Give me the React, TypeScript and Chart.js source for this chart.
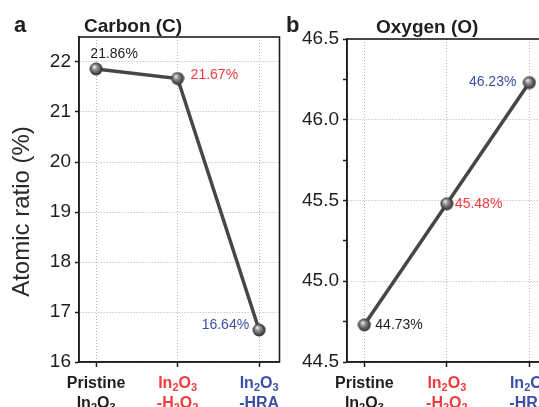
import React, { useEffect, useRef } from "react";
import { Chart, registerables } from "chart.js";

Chart.register(...registerables);

// ---- data ----
const categories = ["Pristine\nIn_2O_3", "In_2O_3\n-H_2O_2", "In_2O_3\n-HRA"];
const categoryColors = ["#1e1e1e", "#f03c3c", "#3b4ea8"];
const carbonValues = [21.86, 21.67, 16.64];
const oxygenValues = [44.73, 45.48, 46.23];
const carbonTicks = [16, 17, 18, 19, 20, 21, 22];
const oxygenTicks = [44.5, 45.0, 45.5, 46.0, 46.5];
const yAxisTitle = "Atomic ratio (%)";

// ---- styles ----
const FONT = "'Liberation Sans', Arial, Helvetica, sans-serif";

function makeSphere(): HTMLCanvasElement {
  const c = document.createElement("canvas");
  c.width = 14;
  c.height = 14;
  const g = c.getContext("2d")!;
  const grad = g.createRadialGradient(5, 4.6, 0.3, 7, 7, 7);
  grad.addColorStop(0, "#f2f2f2");
  grad.addColorStop(0.3, "#9a9a9a");
  grad.addColorStop(0.75, "#4a4a4a");
  grad.addColorStop(1, "#262626");
  g.fillStyle = grad;
  g.beginPath();
  g.arc(7, 7, 6.5, 0, Math.PI * 2);
  g.fill();
  return c;
}

function drawRich(ctx: CanvasRenderingContext2D, text: string, cx: number, cy: number, size: number, color: string) {
  const parts: { t: string; sub: boolean }[] = [];
  for (let i = 0; i < text.length; i++) {
    if (text[i] === "_" && i + 1 < text.length) {
      parts.push({ t: text[i + 1], sub: true });
      i++;
    } else {
      const last = parts[parts.length - 1];
      if (last && !last.sub) last.t += text[i];
      else parts.push({ t: text[i], sub: false });
    }
  }
  const subSize = Math.round(size * 0.68);
  let total = 0;
  const widths = parts.map((p) => {
    ctx.font = `bold ${p.sub ? subSize : size}px ${FONT}`;
    const w = ctx.measureText(p.t).width;
    total += w;
    return w;
  });
  let x = cx - total / 2;
  ctx.fillStyle = color;
  ctx.textBaseline = "alphabetic";
  ctx.textAlign = "left";
  const base = cy + size * 0.36;
  parts.forEach((p, i) => {
    ctx.font = `bold ${p.sub ? subSize : size}px ${FONT}`;
    ctx.fillText(p.t, x, p.sub ? base + size * 0.22 : base);
    x += widths[i];
  });
}

type LabelStyle = { dx: number; dy: number; align: CanvasTextAlign };

interface PanelCfg {
  values: number[];
  yTicks: number[];
  yMin: number;
  yMax: number;
  step: number;
  decimals: number;
  title: string;
  titleX: number;
  titleY: number;
  letter: string;
  letterX: number;
  letterY: number;
  yTitleX: number | null;
  yScaleWidth: number;
  padTop: number;
  padRight: number;
  labels: LabelStyle[];
}

const CANVAS_H = 430;
const AREA_BOTTOM = 362;

function makeChart(canvas: HTMLCanvasElement, cfg: PanelCfg) {
  const sphere = makeSphere();
  const isMajor = (v: number) => cfg.yTicks.some((t) => Math.abs(t - v) < 1e-6);
  const plugin = {
    id: "decor",
    afterDraw(chart: any) {
      const ctx: CanvasRenderingContext2D = chart.ctx;
      const a = chart.chartArea;
      const xs = chart.scales.x;
      const ys = chart.scales.y;
      ctx.save();
      // frame
      ctx.strokeStyle = "#1e1e1e";
      ctx.lineWidth = 1.6;
      ctx.strokeRect(a.left, a.top, a.right - a.left, a.bottom - a.top);
      // title & letter
      ctx.fillStyle = "#1e1e1e";
      ctx.textBaseline = "alphabetic";
      ctx.textAlign = "left";
      ctx.font = `bold 19px ${FONT}`;
      ctx.fillText(cfg.title, cfg.titleX, cfg.titleY);
      ctx.font = `bold 22px ${FONT}`;
      ctx.fillText(cfg.letter, cfg.letterX, cfg.letterY);
      // y title
      if (cfg.yTitleX !== null) {
        ctx.save();
        ctx.translate(cfg.yTitleX, (a.top + a.bottom) / 2 + 12);
        ctx.rotate(-Math.PI / 2);
        ctx.font = `24px ${FONT}`;
        ctx.fillStyle = "#2a2a2a";
        ctx.textAlign = "center";
        ctx.textBaseline = "middle";
        ctx.fillText(yAxisTitle, 0, 0);
        ctx.restore();
      }
      // category labels
      categories.forEach((c, i) => {
        const px = xs.getPixelForValue(i);
        c.split("\n").forEach((line, j) => {
          drawRich(ctx, line, px, a.bottom + 20 + j * 20, 16, categoryColors[i]);
        });
      });
      // value labels
      ctx.font = `14px ${FONT}`;
      ctx.textBaseline = "middle";
      cfg.values.forEach((v, i) => {
        const st = cfg.labels[i];
        ctx.fillStyle = categoryColors[i];
        ctx.textAlign = st.align;
        ctx.fillText(v.toFixed(2) + "%", xs.getPixelForValue(i) + st.dx, ys.getPixelForValue(v) + st.dy);
      });
      ctx.restore();
    },
  };

  return new Chart(canvas, {
    type: "line",
    data: {
      datasets: [
        {
          data: cfg.values.map((v, i) => ({ x: i, y: v })),
          borderColor: "#464646",
          borderWidth: 3.5,
          pointStyle: sphere as any,
          pointRadius: 7,
          tension: 0,
        },
      ],
    },
    options: {
      animation: false,
      responsive: false,
      events: [],
      layout: { padding: { top: cfg.padTop, right: cfg.padRight, left: 0, bottom: 0 } },
      plugins: { legend: { display: false }, tooltip: { enabled: false }, title: { display: false } },
      scales: {
        x: {
          type: "linear",
          min: -0.21,
          max: 2.25,
          afterBuildTicks: (s: any) => {
            s.ticks = [0, 1, 2].map((value) => ({ value }));
          },
          afterFit: (s: any) => {
            s.height = CANVAS_H - AREA_BOTTOM;
          },
          ticks: { display: false },
          grid: {
            color: "#b0b0b0",
            lineWidth: 1,
            tickLength: 5,
            tickColor: "#1e1e1e",
            tickWidth: 1.5,
            tickBorderDash: [],
          },
          border: { display: true, color: "#1e1e1e", width: 1.6, dash: [1, 2] },
        },
        y: {
          type: "linear",
          min: cfg.yMin,
          max: cfg.yMax,
          afterBuildTicks: (s: any) => {
            const t: any[] = [];
            for (let v = cfg.yMin; v <= cfg.yMax + 1e-9; v += cfg.step) t.push({ value: Math.round(v * 1000) / 1000 });
            s.ticks = t;
          },
          afterFit: (s: any) => {
            s.width = cfg.yScaleWidth;
          },
          ticks: {
            padding: 4,
            color: "#1e1e1e",
            font: { family: FONT, size: 19 },
            callback: (val: any) => {
              const v = Number(val);
              if (!isMajor(v)) return "";
              return v.toFixed(cfg.decimals);
            },
          },
          grid: {
            color: (ctx: any) => (ctx.tick && isMajor(ctx.tick.value) ? "#b0b0b0" : "rgba(0,0,0,0)"),
            lineWidth: 1,
            tickLength: 4,
            tickColor: "#1e1e1e",
            tickWidth: 1.5,
            tickBorderDash: [],
          },
          border: { display: true, color: "#1e1e1e", width: 1.6, dash: [1, 2] },
        },
      },
    },
    plugins: [plugin],
  } as any);
}

const panelA: PanelCfg = {
  values: carbonValues,
  yTicks: carbonTicks,
  yMin: 16,
  yMax: 22.5,
  step: 0.5,
  decimals: 0,
  title: "Carbon (C)",
  titleX: 84,
  titleY: 32,
  letter: "a",
  letterX: 14,
  letterY: 32,
  yTitleX: 22,
  yScaleWidth: 79,
  padTop: 37,
  padRight: 8,
  labels: [
    { dx: 18, dy: -15, align: "center" },
    { dx: 13, dy: -3, align: "left" },
    { dx: -10, dy: -5, align: "right" },
  ],
};

const panelB: PanelCfg = {
  values: oxygenValues,
  yTicks: oxygenTicks,
  yMin: 44.5,
  yMax: 46.5,
  step: 0.25,
  decimals: 1,
  title: "Oxygen (O)",
  titleX: 106,
  titleY: 33,
  letter: "b",
  letterX: 16,
  letterY: 32,
  yTitleX: null,
  yScaleWidth: 77,
  padTop: 39,
  padRight: 20,
  labels: [
    { dx: 11, dy: 0, align: "left" },
    { dx: 8, dy: 0, align: "left" },
    { dx: -13, dy: 0, align: "right" },
  ],
};

export default function App() {
  const refA = useRef<HTMLCanvasElement>(null);
  const refB = useRef<HTMLCanvasElement>(null);
  useEffect(() => {
    const a = makeChart(refA.current!, panelA);
    const b = makeChart(refB.current!, panelB);
    return () => {
      a.destroy();
      b.destroy();
    };
  }, []);
  return (
    <div
      style={{
        position: "fixed",
        left: 0,
        top: 0,
        width: 539,
        height: 407,
        overflow: "hidden",
        background: "#ffffff",
      }}
    >
      <canvas
        ref={refA}
        width={290}
        height={CANVAS_H}
        style={{ position: "absolute", left: 0, top: 0, width: 290, height: CANVAS_H }}
      />
      <canvas
        ref={refB}
        width={300}
        height={CANVAS_H}
        style={{ position: "absolute", left: 270, top: 0, width: 300, height: CANVAS_H }}
      />
    </div>
  );
}
